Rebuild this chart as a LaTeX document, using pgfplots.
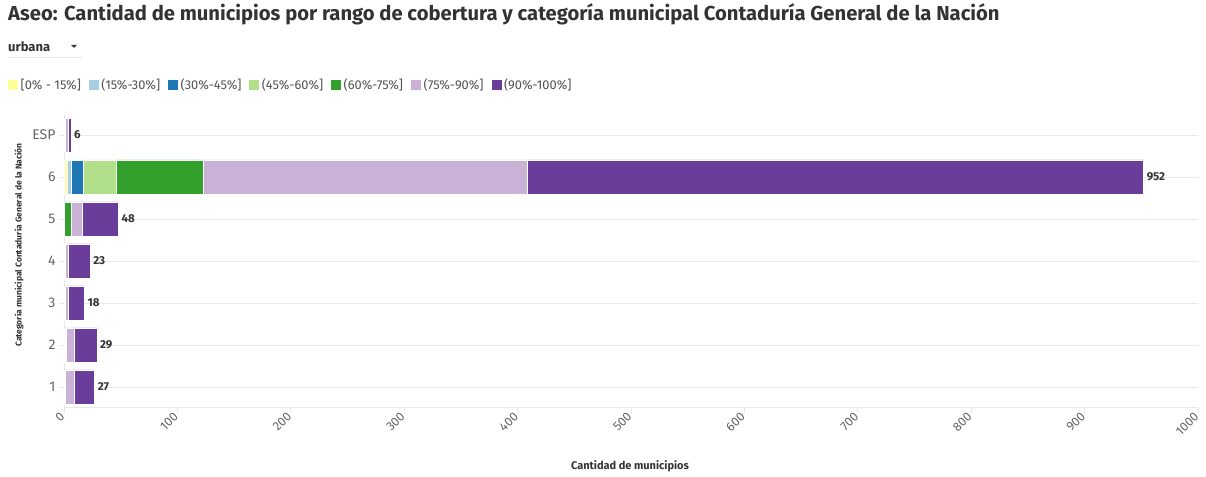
\documentclass[border=0pt]{standalone}
\usepackage{pgfplots}
\pgfplotsset{compat=1.18}
\usepackage{fontspec}
\setmainfont{Fira Sans}
\definecolor{c1}{HTML}{FFFF99}
\definecolor{c2}{HTML}{A6CEE3}
\definecolor{c3}{HTML}{1F78B4}
\definecolor{c4}{HTML}{B2DF8A}
\definecolor{c5}{HTML}{33A02C}
\definecolor{c6}{HTML}{CAB2D6}
\definecolor{c7}{HTML}{6A3D9A}
\definecolor{txt}{HTML}{333333}
\definecolor{tickc}{HTML}{666666}
\definecolor{gridc}{HTML}{E8E8E8}
\begin{document}
\begin{tikzpicture}[x=1pt,y=1pt]
\path[use as bounding box] (0,0) rectangle (1206,476);
\node[anchor=west, inner sep=0, font=\bfseries\fontsize{20.2}{24}\selectfont, text=txt] at (8,462) {Aseo: Cantidad de municipios por rango de cobertura y categoría municipal Contaduría General de la Nación};
\node[anchor=west, inner sep=0, font=\bfseries\fontsize{13}{16}\selectfont, text=txt] at (8,429) {urbana};
\fill[txt] (71,431) -- (77,431) -- (74,428) -- cycle;
\draw[gridc, line width=1pt] (8,418) -- (82,418);
\node[anchor=center, rotate=90, inner sep=0, font=\bfseries\fontsize{8.5}{10}\selectfont, text=txt] at (19,231) {Categoría municipal Contaduría General de la Nación};
\node[anchor=center, inner sep=0, font=\bfseries\fontsize{11}{13}\selectfont, text=txt] at (630,10) {Cantidad de municipios};
% background axis: grid, ticks, legend, value labels
\begin{axis}[
  at={(64pt,68pt)}, anchor=south west,
  scale only axis, width=1134pt, height=294pt,
  xmin=0, xmax=1000, ymin=-0.5, ymax=6.5,
  ytick={0,...,6}, yticklabels={1,2,3,4,5,6,ESP},
  xtick={0,100,...,1000},
  /pgf/number format/1000 sep={},
  /pgf/number format/assume math mode=true,
  ymajorgrids, grid style={draw=gridc, line width=0.8pt},
  axis x line*=bottom, axis y line*=left,
  axis line style={draw=gridc, line width=1pt},
  major tick length=5pt, tick align=outside,
  tick style={draw=gridc, line width=0.8pt},
  xticklabel style={rotate=45, anchor=east, font=\fontsize{12.5}{14}\selectfont, text=tickc, inner sep=2pt},
  yticklabel style={font=\fontsize{14}{16}\selectfont, text=tickc},
  legend columns=7,
  legend style={at={(axis description cs:-0.0494,1.1)}, anchor=west, draw=none, fill=none, inner sep=0pt,
    font=\fontsize{12.8}{14}\selectfont, text=txt!85,
    nodes={inner sep=1pt},
    /tikz/every odd column/.append style={column sep=1.5pt},
    /tikz/every even column/.append style={column sep=7pt}},
  legend image code/.code={\path[#1, draw=none] (0pt,-5pt) rectangle (10pt,5pt);},
  clip=false,
]
\addlegendimage{fill=c1}
\addlegendimage{fill=c2}
\addlegendimage{fill=c3}
\addlegendimage{fill=c4}
\addlegendimage{fill=c5}
\addlegendimage{fill=c6}
\addlegendimage{fill=c7}
\addplot[draw=none, mark=none, nodes near coords, point meta=explicit symbolic,
  nodes near coords style={anchor=west, inner sep=3pt, font=\bfseries\fontsize{11.5}{13}\selectfont, text=txt}]
  table[meta=lab] {
x y lab
27 0 27
29 1 29
18 2 18
23 3 23
48 4 48
952 5 952
6 6 6
};
\legend{{{}[0\% - 15\%]},{(15\%-30\%]},{(30\%-45\%]},{(45\%-60\%]},{(60\%-75\%]},{(75\%-90\%]},{(90\%-100\%]}}
\end{axis}
% foreground axis: stacked bars
\begin{axis}[
  at={(64pt,68pt)}, anchor=south west,
  scale only axis, width=1134pt, height=294pt,
  xmin=0, xmax=1000, ymin=-0.5, ymax=6.5,
  hide axis, clip=false,
  xbar stacked, bar width=34pt,
  every axis plot/.append style={draw=white, line width=0.3pt},
]
\addplot[fill=c1] coordinates {(0,0) (0,1) (0,2) (0,3) (0,4) (3,5) (0,6)};
\addplot[fill=c2] coordinates {(0,0) (0,1) (0,2) (0,3) (0,4) (3,5) (0,6)};
\addplot[fill=c3] coordinates {(0,0) (0,1) (0,2) (0,3) (0,4) (11,5) (0,6)};
\addplot[fill=c4] coordinates {(0,0) (1,1) (0,2) (1,3) (0,4) (29,5) (0,6)};
\addplot[fill=c5] coordinates {(1,0) (1,1) (1,2) (0,3) (6,4) (77,5) (1,6)};
\addplot[fill=c6] coordinates {(8,0) (7,1) (3,2) (3,3) (10,4) (285,5) (3,6)};
\addplot[fill=c7] coordinates {(18,0) (20,1) (14,2) (19,3) (32,4) (544,5) (2,6)};
\end{axis}
\end{tikzpicture}
\end{document}
